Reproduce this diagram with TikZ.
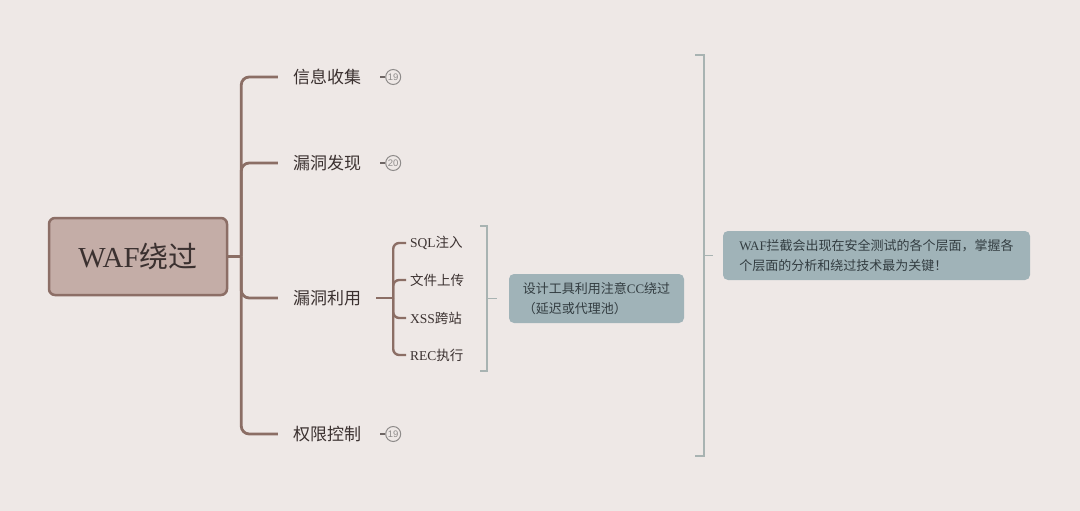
\documentclass[tikz,border=0pt]{standalone}
\usepackage{fontspec}
\setmainfont{Liberation Serif}
\newfontfamily\cjk{Noto Sans CJK SC}
\newfontfamily\numfont{Liberation Sans}
\usetikzlibrary{positioning}

\definecolor{bgcol}{HTML}{EEE8E6}
\definecolor{rootfill}{HTML}{C4ADA7}
\definecolor{rootline}{HTML}{8C6E66}
\definecolor{linkcol}{HTML}{8B6E65}
\definecolor{textcol}{HTML}{3B3130}
\definecolor{badgecol}{HTML}{8E8B8A}
\definecolor{badgelinecol}{HTML}{6E6664}
\definecolor{bracketcol}{HTML}{A8B3B2}
\definecolor{notefill}{HTML}{A0B3B8}
\definecolor{notetext}{HTML}{333D41}

\newcommand{\zh}[1]{{\cjk #1}}

\begin{document}
\begin{tikzpicture}[x=1pt, y=-1pt,
    root/.style={draw=rootline, fill=rootfill, line width=2.5pt, rounded corners=6pt,
        minimum width=178pt, minimum height=77pt, text=textcol,
        font=\fontsize{29}{34}\selectfont},
    branch/.style={inner xsep=15pt, inner ysep=2pt, text=textcol,
        font=\fontsize{17}{20}\selectfont\cjk},
    leaf/.style={anchor=west, inner xsep=4pt, inner ysep=1pt, text=textcol,
        font=\fontsize{13.5}{16}\selectfont},
    badge/.style={circle, draw=badgecol, line width=1pt, minimum size=15pt, inner sep=0pt,
        text=badgecol, font=\numfont\fontsize{9.5}{10}\selectfont},
    note/.style={fill=notefill, rounded corners=5pt, minimum height=49pt, align=left,
        text=notetext, font=\fontsize{13}{20}\selectfont},
    link/.style={draw=linkcol, line width=2.8pt, rounded corners=8pt},
    sublink/.style={draw=linkcol, line width=2.4pt, rounded corners=6pt},
    bracket/.style={draw=bracketcol, line width=1.6pt},
    badgeline/.style={draw=badgelinecol, line width=2.6pt}]

    \useasboundingbox (0,0) rectangle (1080,511);
    \fill[bgcol] (0,0) rectangle (1080,511);

    % Root and main branches
    \node[root] (root) at (138,256.5) {WAF\zh{绕过}};
    \node[branch] (b1) at (327,77) {信息收集};
    \node[branch] (b2) at (327,163) {漏洞发现};
    \node[branch] (b3) at (327,298) {漏洞利用};
    \node[branch] (b4) at (327,434) {权限控制};

    \coordinate (trunk) at ([xshift=13pt]root.east);
    \draw[link] (root.east) -- (trunk);
    \draw[link] (trunk) |- (b1.west);
    \draw[link] (trunk) |- (b2.west);
    \draw[link] (trunk) |- (b3.west);
    \draw[link] (trunk) |- (b4.west);

    % Badges
    \node[badge, right=9pt of b1] (c1) {19};
    \node[badge, right=9pt of b2] (c2) {20};
    \node[badge, right=9pt of b4] (c4) {19};
    \draw[badgeline, shorten <=4pt] (b1.east) -- (c1.west);
    \draw[badgeline, shorten <=4pt] (b2.east) -- (c2.west);
    \draw[badgeline, shorten <=4pt] (b4.east) -- (c4.west);

    % Sub branches of b3
    \node[leaf] (s1) at (406,243) {SQL\zh{注入}};
    \node[leaf] (s2) at (406,280) {\zh{文件上传}};
    \node[leaf] (s3) at (406,318) {XSS\zh{跨站}};
    \node[leaf] (s4) at (406,355) {REC\zh{执行}};

    \coordinate (fork) at ([xshift=17pt]b3.east);
    \draw[sublink] (b3.east) -- (fork);
    \draw[sublink] (fork) |- (s1.west);
    \draw[sublink] (fork) |- (s2.west);
    \draw[sublink] (fork) |- (s3.west);
    \draw[sublink] (fork) |- (s4.west);

    % Notes and brackets
    \node[note, minimum width=175pt] (note1) at (596.5,298.5)
        {\zh{设计工具利用注意}CC\zh{绕过}\\\zh{（延迟或代理池）}};
    \node[note, minimum width=307pt] (note2) at (876.5,255.5)
        {WAF\zh{拦截会出现在安全测试的各个层面，掌握各}\\\zh{个层面的分析和绕过技术最为关键！}};

    \coordinate (br1t) at (487,226);
    \coordinate (br1b) at (487,371);
    \coordinate (br1m) at (487,298.5);
    \draw[bracket] ([xshift=-7pt]br1t) -- (br1t) -- (br1b) -- ([xshift=-7pt]br1b);
    \draw[bracket, shorten >=12pt] (br1m) -- (note1.west);

    \coordinate (br2t) at (704,55);
    \coordinate (br2b) at (704,456);
    \coordinate (br2m) at (704,255.5);
    \draw[bracket] ([xshift=-9pt]br2t) -- (br2t) -- (br2b) -- ([xshift=-9pt]br2b);
    \draw[bracket, shorten >=10pt] (br2m) -- (note2.west);
\end{tikzpicture}
\end{document}
